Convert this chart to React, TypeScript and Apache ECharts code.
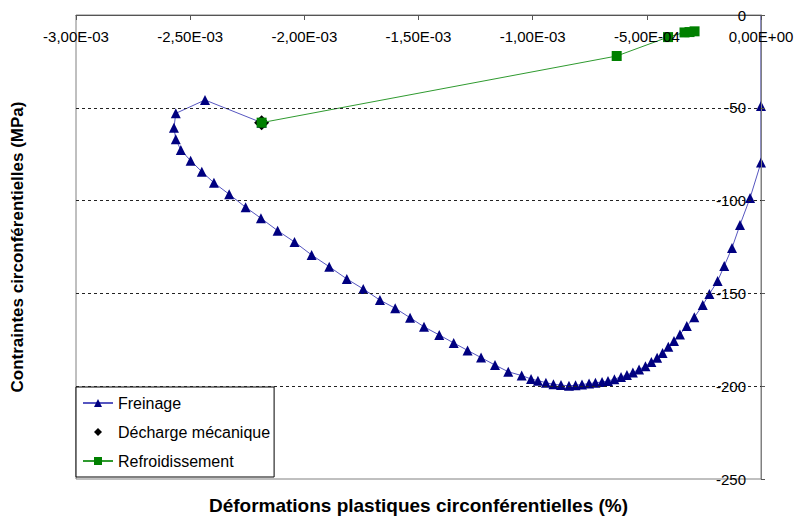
import React, { useEffect, useRef } from "react";
import * as echarts from "echarts";

// Freinage (braking): plastic hoop strain vs hoop stress (MPa)
const freinageStrain = [
  0, 0, 0, -4.8e-5, -9.2e-5, -1.27e-4, -1.61e-4, -1.9e-4, -2.26e-4, -2.55e-4,
  -2.92e-4, -3.25e-4, -3.55e-4, -3.81e-4, -4.06e-4, -4.31e-4, -4.55e-4, -4.8e-4,
  -5.06e-4, -5.34e-4, -5.61e-4, -5.87e-4, -6.13e-4, -6.42e-4, -6.7e-4, -6.96e-4,
  -7.25e-4, -7.53e-4, -7.84e-4, -8.12e-4, -8.41e-4, -8.76e-4, -9.09e-4, -9.42e-4,
  -9.77e-4, -1.007e-3, -1.048e-3, -1.107e-3, -1.165e-3, -1.226e-3, -1.285e-3,
  -1.346e-3, -1.409e-3, -1.476e-3, -1.537e-3, -1.602e-3, -1.669e-3, -1.742e-3,
  -1.814e-3, -1.891e-3, -1.968e-3, -2.043e-3, -2.117e-3, -2.19e-3, -2.257e-3,
  -2.329e-3, -2.396e-3, -2.449e-3, -2.498e-3, -2.541e-3, -2.563e-3, -2.571e-3,
  -2.563e-3, -2.435e-3, -2.187e-3,
];
const freinageStress = [
  0, -49.0, -79.5, -98.6, -113.1, -125.5, -135.2, -143.3, -150.3, -156.3,
  -162.9, -167.6, -172.1, -175.6, -178.7, -182.1, -184.7, -187.0,
  -189.3, -191.0, -192.6, -194.0, -195.0, -196.2, -197.2, -197.7,
  -198.2, -198.6, -199.1, -199.5, -199.8, -199.4, -199.0, -198.1,
  -197.0, -196.1, -194.3, -192.2, -188.6, -184.6, -180.7,
  -176.7, -172.4, -168.0, -163.1, -158.0, -153.6, -147.6,
  -142.2, -135.6, -129.3, -122.3, -116.2, -109.5, -103.6,
  -96.6, -90.4, -84.4, -78.5, -72.7, -67.0, -60.7,
  -53.0, -45.8, -58.0,
];

// Décharge mécanique (mechanical unloading)
const dechargeStrain = [-2.187e-3];
const dechargeStress = [-58.0];

// Refroidissement (cooling)
const refroidStrain = [-2.187e-3, -6.32e-4, -4.07e-4, -3.35e-4, -3.13e-4, -2.91e-4];
const refroidStress = [-58.0, -22.1, -11.9, -9.4, -9.2, -8.8];

// Axes
const xMin = -0.003;
const xMax = 0;
const xStep = 0.0005;
const yMin = -250;
const yMax = 0;
const yStep = 50;

const seriesNames = ["Freinage", "Décharge mécanique", "Refroidissement"];
const xTitle = "Déformations plastiques circonférentielles (%)";
const yTitle = "Contraintes circonférentielles (MPa)";

const FONT = "'Liberation Sans', Arial, sans-serif";

function fmtSci(v: number): string {
  if (Math.abs(v) < 1e-12) return "0,00E+00";
  const s = v.toExponential(2); // e.g. -2.50e-3
  const [mant, exp] = s.split("e");
  const e = parseInt(exp, 10);
  const sign = e < 0 ? "-" : "+";
  const ae = Math.abs(e);
  return mant.replace(".", ",") + "E" + sign + (ae < 10 ? "0" + ae : String(ae));
}

export default function App() {
  const ref = useRef<HTMLDivElement>(null);

  useEffect(() => {
    if (!ref.current) return;
    const chart = echarts.init(ref.current, undefined, { renderer: "svg" });

    const freinageData = freinageStrain.map((x, i) => {
      if (i === 0) return { value: [x, freinageStress[i]], symbol: "none" };
      return [x, freinageStress[i]];
    });
    const dechargeData = dechargeStrain.map((x, i) => [x, dechargeStress[i]]);
    const refroidData = refroidStrain.map((x, i) => [x, refroidStress[i]]);

    chart.setOption({
      animation: false,
      backgroundColor: "#ffffff",
      textStyle: { fontFamily: FONT },
      grid: {
        left: 76,
        right: 39,
        top: 15,
        bottom: 43,
        containLabel: false,
        outerBoundsMode: "none",
        show: true,
        borderColor: "#808080",
        borderWidth: 1,
        backgroundColor: "transparent",
      },
      xAxis: [
        {
          type: "value",
          position: "top",
          min: xMin,
          max: xMax,
          interval: xStep,
          z: 10,
          axisLine: { show: true, onZero: false, lineStyle: { color: "#555", width: 1 } },
          axisTick: { show: true, inside: true, length: 5, lineStyle: { color: "#555" } },
          axisLabel: {
            inside: true,
            margin: 14,
            color: "#000",
            fontSize: 15,
            fontFamily: FONT,
            showMinLabel: true,
            showMaxLabel: true,
            formatter: (v: number) => fmtSci(v),
          },
          splitLine: { show: false },
        },
        {
          type: "value",
          position: "bottom",
          min: xMin,
          max: xMax,
          interval: xStep,
          name: xTitle,
          nameLocation: "middle",
          nameGap: 17,
          nameTextStyle: { fontSize: 19, fontWeight: "bold", color: "#000", fontFamily: FONT },
          axisLine: { show: false },
          axisTick: { show: false },
          axisLabel: { show: false },
          splitLine: { show: false },
        },
      ],
      yAxis: [
        {
          type: "value",
          position: "right",
          min: yMin,
          max: yMax,
          interval: yStep,
          z: 10,
          axisLine: { show: true, onZero: false, lineStyle: { color: "#808080", width: 1 } },
          axisTick: { show: true, inside: false, length: 4, lineStyle: { color: "#555" } },
          axisLabel: {
            inside: true,
            margin: 15,
            color: "#000",
            fontSize: 15,
            fontFamily: FONT,
            showMinLabel: true,
            showMaxLabel: true,
          },
          splitLine: {
            show: true,
            showMinLine: false,
            showMaxLine: false,
            lineStyle: { color: "#222", type: [3, 3], width: 1 },
          },
        },
        {
          type: "value",
          position: "left",
          min: yMin,
          max: yMax,
          interval: yStep,
          name: yTitle,
          nameLocation: "middle",
          nameGap: 50,
          nameRotate: 90,
          nameTextStyle: { fontSize: 17, fontWeight: "bold", color: "#000", fontFamily: FONT },
          axisLine: { show: false },
          axisTick: { show: false },
          axisLabel: { show: false },
          splitLine: { show: false },
        },
      ],
      legend: {
        orient: "vertical",
        left: 76,
        top: 387,
        data: seriesNames,
        itemWidth: 30,
        itemHeight: 10,
        itemGap: 13,
        padding: [8, 4, 8, 6],
        backgroundColor: "#ffffff",
        borderColor: "#000",
        borderWidth: 1,
        borderRadius: 0,
        textStyle: { fontSize: 16, color: "#000", fontFamily: FONT },
      },
      series: [
        {
          name: seriesNames[0],
          type: "line",
          xAxisIndex: 0,
          yAxisIndex: 0,
          data: freinageData,
          symbol: "triangle",
          symbolSize: 10,
          clip: false,
          z: 2,
          itemStyle: { color: "#000080" },
          lineStyle: { color: "#5656c0", width: 1 },
        },
        {
          name: seriesNames[1],
          type: "line",
          xAxisIndex: 0,
          yAxisIndex: 0,
          data: dechargeData,
          symbol: "diamond",
          symbolSize: 15,
          clip: false,
          z: 3,
          itemStyle: { color: "#000000" },
          lineStyle: { width: 0, opacity: 0 },
        },
        {
          name: seriesNames[2],
          type: "line",
          xAxisIndex: 0,
          yAxisIndex: 0,
          data: refroidData,
          symbol: "rect",
          symbolSize: 10,
          clip: false,
          z: 4,
          itemStyle: { color: "#008000" },
          lineStyle: { color: "#2f9a2f", width: 1 },
        },
      ],
    });

    return () => {
      chart.dispose();
    };
  }, []);

  return (
    <div
      ref={ref}
      style={{ position: "fixed", left: 0, top: 0, width: 800, height: 522 }}
    />
  );
}
